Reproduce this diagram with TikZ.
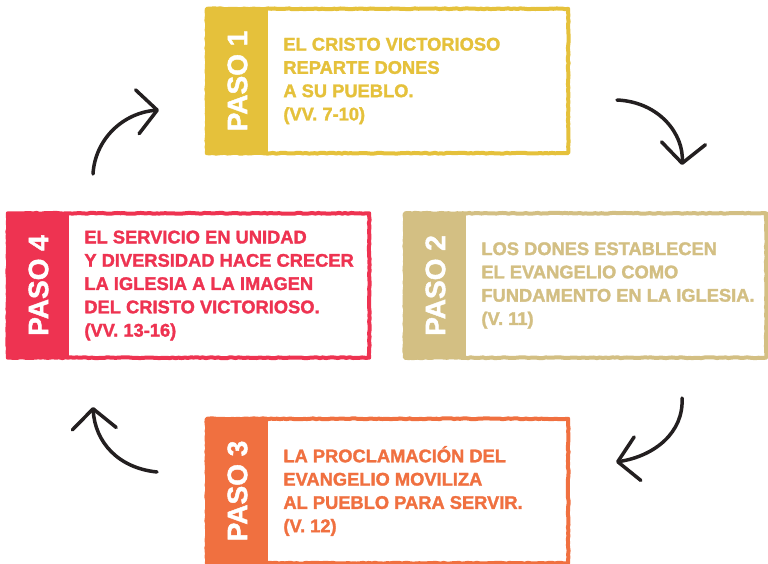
\documentclass[tikz,border=0pt]{standalone}
\usepackage{fontspec}
\setmainfont{Liberation Sans}
\newfontfamily\heavyfont[BoldFeatures={FakeBold=1.6}]{Liberation Sans}
\usetikzlibrary{arrows.meta,positioning,decorations.pathmorphing}

\definecolor{pasoyellow}{HTML}{E5C13B}
\definecolor{pasotan}{HTML}{D3BF83}
\definecolor{pasored}{HTML}{EE3351}
\definecolor{pasoorange}{HTML}{F07040}
\definecolor{arrowink}{HTML}{231F20}

\begin{document}
\begin{tikzpicture}[
    x=1pt, y=-1pt,
    box/.style={fill=white, minimum width=361pt, minimum height=144pt, inner sep=0},
    rim/.style={draw=#1, line width=4pt, line join=round,
        decorate, decoration={random steps, segment length=3pt, amplitude=0.45pt}},
    band/.style={fill=#1, anchor=north west, inner sep=0, minimum width=61pt, minimum height=144pt},
    pasotext/.style={rotate=90, text=white, inner sep=0, font=\heavyfont\fontsize{28}{28}\selectfont\bfseries},
    bodytext/.style={right=15pt of #1, inner sep=0, align=left, font=\heavyfont\fontsize{18.3}{23.3}\selectfont\bfseries},
    turn/.style={line width=3.5pt, draw=arrowink, line cap=round,
        -{Straight Barb[length=20pt, width=44pt, line cap=round, line join=round]}}
]
\useasboundingbox (0,0) rectangle (768,564);

% paso 1
\node[box] (p1) at (387.5,81) {};
\node[band=pasoyellow] (b1) at (p1.north west) {};
\draw[rim=pasoyellow] (p1.north west) rectangle (p1.south east);
\node[pasotext] (s1) at (b1.center) {PASO 1};
\node[bodytext=b1, text=pasoyellow] (t1) {EL CRISTO VICTORIOSO\\REPARTE DONES\\A SU PUEBLO.\\(VV. 7-10)};

% paso 2
\node[box] (p2) at (585.5,285.5) {};
\node[band=pasotan] (b2) at (p2.north west) {};
\draw[rim=pasotan] (p2.north west) rectangle (p2.south east);
\node[pasotext] (s2) at (b2.center) {PASO 2};
\node[bodytext=b2, text=pasotan] (t2) {LOS DONES ESTABLECEN\\EL EVANGELIO COMO\\FUNDAMENTO EN LA IGLESIA.\\(V. 11)};

% paso 3
\node[box] (p3) at (387.5,491) {};
\node[band=pasoorange] (b3) at (p3.north west) {};
\draw[rim=pasoorange] (p3.north west) rectangle (p3.south east);
\node[pasotext] (s3) at (b3.center) {PASO 3};
\node[bodytext=b3, text=pasoorange] (t3) {LA PROCLAMACIÓN DEL\\EVANGELIO MOVILIZA\\AL PUEBLO PARA SERVIR.\\(V. 12)};

% paso 4
\node[box] (p4) at (188.5,285.5) {};
\node[band=pasored] (b4) at (p4.north west) {};
\draw[rim=pasored] (p4.north west) rectangle (p4.south east);
\node[pasotext] (s4) at (b4.center) {PASO 4};
\node[bodytext=b4, text=pasored] (t4) {EL SERVICIO EN UNIDAD\\Y DIVERSIDAD HACE CRECER\\LA IGLESIA A LA IMAGEN\\DEL CRISTO VICTORIOSO.\\(VV. 13-16)};

% arrows
\coordinate (c1s) at (617,100);
\coordinate (c1e) at (682,165);
\coordinate (c2s) at (682,398);
\coordinate (c2e) at (616,462);
\coordinate (c3s) at (157,472);
\coordinate (c3e) at (93,407);
\coordinate (c4s) at (93,174);
\coordinate (c4e) at (159,110);

\draw[turn] (c1s) .. controls (660,102) and (684,135) .. (c1e);
\draw[turn] (c2s) .. controls (684,432) and (655,456) .. (c2e);
\draw[turn] (c3s) .. controls (118,468) and (95,442) .. (c3e);
\draw[turn] (c4s) .. controls (95,140) and (122,113) .. (c4e);

\end{tikzpicture}
\end{document}
